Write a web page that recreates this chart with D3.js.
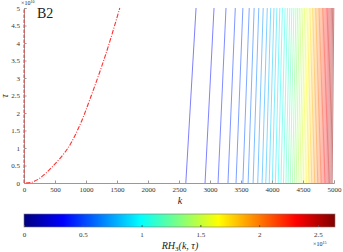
<!DOCTYPE html>
<html>
<head>
<meta charset="utf-8">
<script src="https://cdn.jsdelivr.net/npm/d3@7"></script>
<style>
  body { margin: 0; background: #fff; }
  text { font-family: "Liberation Serif", "DejaVu Serif", serif; fill: #222; }
</style>
</head>
<body>
<svg width="343" height="252"></svg>
<script>
// contour levels of RH3 (x1e15) and where each crosses tau = 0 and tau = 5e10
var levels = [0.30, 0.35, 0.40, 0.45, 0.50, 0.55, 0.60, 0.65, 0.70, 0.75,
              0.80, 0.85, 0.90, 0.95, 1.00, 1.05, 1.10, 1.15, 1.20, 1.25,
              1.30, 1.35, 1.40, 1.45, 1.50, 1.55, 1.60, 1.65, 1.70, 1.75,
              1.80, 1.85, 1.90, 1.95, 2.00, 2.05, 2.10, 2.15, 2.20, 2.25,
              2.30, 2.35, 2.40, 2.45, 2.50, 2.55, 2.60];
var kBottom = [2610, 2920, 3130, 3290, 3420, 3530, 3615, 3695, 3770, 3840,
               3900, 3955, 4005, 4055, 4100, 4145, 4185, 4225, 4260, 4295,
               4330, 4360, 4390, 4420, 4450, 4478, 4505, 4532, 4558, 4584,
               4610, 4635, 4660, 4684, 4708, 4732, 4755, 4778, 4800, 4822,
               4844, 4866, 4887, 4908, 4929, 4950, 4970];
var kTop = [2775, 3065, 3258, 3408, 3530, 3633, 3712, 3787, 3858, 3924,
            3980, 4032, 4079, 4126, 4168, 4211, 4249, 4287, 4320, 4353,
            4386, 4414, 4442, 4470, 4499, 4526, 4552, 4578, 4603, 4628,
            4653, 4677, 4701, 4724, 4747, 4770, 4792, 4814, 4835, 4856,
            4877, 4898, 4918, 4938, 4958, 4978, 4997];

// red dash-dot boundary curve
var curveK = [30, 120, 250, 470, 710, 900, 1065, 1323, 1545];
var curveTau = [0, 0.02, 0.13, 0.49, 1.0, 1.65, 2.4, 3.7, 5.0];

var xTicks = [0, 500, 1000, 1500, 2000, 2500, 3000, 3500, 4000, 4500, 5000];
var yTicks = [0, 0.5, 1, 1.5, 2, 2.5, 3, 3.5, 4, 4.5, 5];
var cbTicks = [0, 0.5, 1, 1.5, 2, 2.5];
var cbMax = 2.645;

var svg = d3.select("svg");

var x = d3.scaleLinear().domain([0, 5000]).range([24, 334]);
var y = d3.scaleLinear().domain([0, 5]).range([183, 8]);

// jet colour map
var jet = d3.scaleLinear()
    .domain([0, 0.125, 0.375, 0.625, 0.875, 1].map(function(t) { return t * cbMax; }))
    .range(["#000080", "#0000ff", "#00ffff", "#ffff00", "#ff0000", "#800000"])
    .clamp(true);

svg.append("defs").append("clipPath").attr("id", "plotclip")
  .append("rect").attr("x", 24).attr("y", 8).attr("width", 312).attr("height", 175);

var plot = svg.append("g").attr("clip-path", "url(#plotclip)");

// contour lines
plot.selectAll("line.lev")
    .data(levels)
    .enter().append("line")
    .attr("class", "lev")
    .attr("x1", function(d, i) { return x(kBottom[i]); })
    .attr("y1", y(0))
    .attr("x2", function(d, i) { return x(kTop[i]); })
    .attr("y2", y(5))
    .attr("stroke", function(d) { return jet(d); })
    .attr("stroke-width", 1)
    .attr("stroke-opacity", 0.5);

// axes
var fmt = function(d) { return String(d); };
var xAxis = d3.axisBottom(x).tickValues(xTicks).tickSize(-2.5).tickPadding(4).tickFormat(fmt);
var yAxis = d3.axisLeft(y).tickValues(yTicks).tickSize(-2.5).tickPadding(4).tickFormat(fmt);

var gx = svg.append("g").attr("transform", "translate(0,183)").call(xAxis);
var gy = svg.append("g").attr("transform", "translate(24,0)").call(yAxis);
[gx, gy].forEach(function(g) {
  g.attr("font-family", null);
  g.select(".domain").attr("stroke", "#999");
  g.selectAll(".tick line").attr("stroke", "#999");
  g.selectAll(".tick text").style("font-size", "7px")
    .style("font-family", "'Liberation Serif', serif").style("fill", "#333");
});

// boundary lines on top
svg.append("line")
    .attr("x1", x(0)).attr("x2", x(0)).attr("y1", y(0)).attr("y2", y(5))
    .attr("stroke", "#ff3030").attr("stroke-width", 1)
    .attr("stroke-dasharray", "3.5,1.5");

var pts = curveK.map(function(k, i) { return [k, curveTau[i]]; });
svg.append("path")
    .datum(pts)
    .attr("d", d3.line().x(function(d) { return x(d[0]); }).y(function(d) { return y(d[1]); })
      .curve(d3.curveCatmullRom))
    .attr("fill", "none")
    .attr("stroke", "#ff3030").attr("stroke-width", 1.1)
    .attr("stroke-dasharray", "4.5,1.5,1,1.5");

// labels
var e10 = svg.append("text").attr("x", 21).attr("y", 5).attr("font-size", "6px");
e10.append("tspan").text("\u00d710");
e10.append("tspan").attr("font-size", "4px").attr("dy", -2).text("10");
svg.append("text").attr("x", 37).attr("y", 18).attr("font-size", "14px").text("B2");

svg.append("text").attr("transform", "translate(8,96) rotate(-90)")
    .attr("text-anchor", "middle").attr("font-size", "10px").attr("font-style", "italic").text("\u03c4");
svg.append("text").attr("x", 180).attr("y", 204)
    .attr("text-anchor", "middle").attr("font-size", "10px").attr("font-style", "italic").text("k");

// colour bar
var cb = d3.scaleLinear().domain([0, cbMax]).range([24, 335]);
var grad = svg.select("defs").append("linearGradient").attr("id", "jetgrad")
    .attr("x1", "0%").attr("x2", "100%").attr("y1", "0%").attr("y2", "0%");
grad.selectAll("stop")
    .data(jet.domain())
    .enter().append("stop")
    .attr("offset", function(d) { return (d / cbMax * 100) + "%"; })
    .attr("stop-color", function(d) { return jet(d); });

svg.append("rect").attr("x", cb(0)).attr("y", 214).attr("width", cb(cbMax) - cb(0)).attr("height", 13)
    .attr("fill", "url(#jetgrad)").attr("stroke", "#777").attr("stroke-width", 0.6);

var cbAxis = d3.axisBottom(cb).tickValues(cbTicks).tickSize(-2).tickPadding(5).tickFormat(fmt);
var gcb = svg.append("g").attr("transform", "translate(0,227)").call(cbAxis);
gcb.attr("font-family", null);
gcb.select(".domain").remove();
gcb.selectAll(".tick line").attr("stroke", "#555");
gcb.selectAll(".tick text").style("font-size", "7px")
    .style("font-family", "'Liberation Serif', serif").style("fill", "#333");

var e15 = svg.append("text").attr("x", 313).attr("y", 246).attr("font-size", "6px");
e15.append("tspan").text("\u00d710");
e15.append("tspan").attr("font-size", "4px").attr("dy", -2.5).text("15");

var lab = svg.append("text").attr("x", 180).attr("y", 249)
    .attr("text-anchor", "middle").attr("font-size", "10px").attr("font-style", "italic");
lab.append("tspan").text("RH");
lab.append("tspan").attr("font-size", "7px").attr("font-style", "normal").attr("dy", 2).text("3");
lab.append("tspan").attr("dy", -2).text("(k, \u03c4)");
</script>
</body>
</html>
